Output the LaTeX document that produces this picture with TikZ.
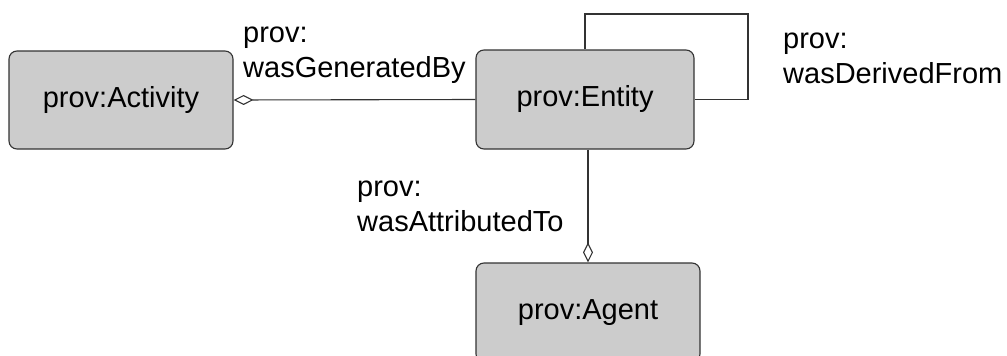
\documentclass[tikz,border=0pt]{standalone}
\usepackage{fontspec}
\setmainfont{Liberation Sans}
\usetikzlibrary{arrows.meta}
\definecolor{boxfill}{HTML}{CCCCCC}
\definecolor{edge}{HTML}{333333}
\begin{document}
\begin{tikzpicture}[x=1pt,y=-1pt,
  cls/.style={draw=edge, line width=1.1pt, fill=boxfill, rounded corners=8pt,
    inner sep=0pt, font=\fontsize{29}{34}\selectfont},
  lbl/.style={inner sep=0pt, align=left, font=\fontsize{29}{35}\selectfont},
  conn/.style={draw=edge, line width=1.1pt},
  agg/.style={-{Diamond[open, length=20pt, width=10pt, line width=1.1pt]}}
]
\useasboundingbox (0,0) rectangle (1007,356);
\node[cls, minimum width=224pt, minimum height=98pt] (act) at (121,100) {prov:Activity};
\node[cls, minimum width=218pt, minimum height=99pt] (ent) at (585,99.5) {prov:Entity};
\node[cls, minimum width=224pt, minimum height=99pt] (agt) at (588,312.5) {prov:Agent};
\coordinate (loop) at (748,14);
\draw[conn, agg] (ent.west) -- (act.east);
\draw[conn, agg] (ent.south -| agt.north) -- (agt.north);
\draw[conn] (ent.north) |- (loop) |- (ent.east);
\node[lbl, anchor=base west] (l1) at (243,77) {prov:\\wasGeneratedBy};
\node[lbl, anchor=base west] (l2) at (783,83) {prov:\\wasDerivedFrom};
\node[lbl, anchor=base west] (l3) at (357,231) {prov:\\wasAttributedTo};
\end{tikzpicture}
\end{document}
